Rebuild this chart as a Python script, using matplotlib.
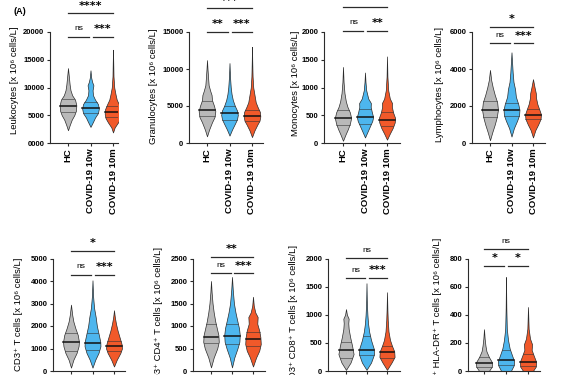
import numpy as np
import matplotlib.pyplot as plt
from matplotlib.transforms import blended_transform_factory

plt.rcParams['font.family'] = ['Liberation Sans', 'DejaVu Sans']

W_PX, H_PX = 581, 375

groups = ["HC", "COVID-19 10w", "COVID-19 10m"]
colors = ["#b9b9b9", "#4db6ee", "#f1592a"]

# violin outlines: values (y) and relative half-widths (w)
leuko_y = [[2300, 3200, 4200, 5000, 5800, 6800, 7800, 8600, 9500, 10500, 12000, 13500],
           [2900, 3800, 4600, 5400, 6200, 7000, 7800, 8600, 9500, 10400, 11000, 11800, 13100],
           [1900, 2800, 3700, 4500, 5300, 6100, 7000, 7800, 8800, 10000, 12000, 14500, 16800]]
leuko_w = [[0, 0.2, 0.45, 0.75, 0.95, 1.0, 0.85, 0.5, 0.3, 0.2, 0.1, 0],
           [0, 0.3, 0.55, 0.9, 1.0, 0.9, 0.55, 0.3, 0.25, 0.35, 0.2, 0.08, 0],
           [0, 0.2, 0.6, 0.9, 1.0, 0.95, 0.7, 0.45, 0.3, 0.15, 0.06, 0.03, 0]]
leuko_med = [6700, 6300, 5600]
leuko_q1 = [5500, 5400, 4700]
leuko_q3 = [8000, 7300, 6600]

gran_y = [[900, 1800, 2800, 3500, 4300, 5000, 5800, 6500, 7000, 7800, 9000, 10000, 11200],
          [1000, 1800, 2600, 3200, 3800, 4400, 5000, 5800, 6600, 7500, 8800, 10800],
          [800, 1700, 2500, 3000, 3600, 4200, 4800, 5500, 6500, 7500, 9000, 11000, 13000]]
gran_w = [[0, 0.25, 0.6, 0.9, 1.0, 0.85, 0.6, 0.55, 0.4, 0.2, 0.12, 0.06, 0],
          [0, 0.3, 0.65, 0.9, 1.0, 0.9, 0.65, 0.4, 0.25, 0.15, 0.07, 0],
          [0, 0.3, 0.65, 0.9, 1.0, 0.95, 0.7, 0.45, 0.3, 0.15, 0.07, 0.03, 0]]
gran_med = [4500, 4000, 3650]
gran_q1 = [3600, 3100, 3000]
gran_q3 = [5700, 5000, 4400]

mono_y = [[40, 150, 250, 350, 450, 550, 650, 750, 900, 1100, 1370],
          [100, 200, 300, 400, 470, 550, 650, 720, 800, 950, 1100, 1270],
          [60, 170, 270, 370, 450, 550, 650, 720, 800, 950, 1200, 1560]]
mono_w = [[0, 0.3, 0.6, 0.85, 1.0, 0.85, 0.55, 0.35, 0.18, 0.07, 0],
          [0, 0.3, 0.6, 0.9, 1.0, 0.85, 0.7, 0.72, 0.4, 0.15, 0.06, 0],
          [0, 0.35, 0.7, 0.95, 1.0, 0.75, 0.6, 0.62, 0.35, 0.15, 0.05, 0]]
mono_med = [450, 460, 415]
mono_q1 = [330, 350, 300]
mono_q3 = [590, 620, 560]

lymph_y = [[150, 600, 1000, 1400, 1800, 2200, 2600, 3000, 3400, 3950],
           [350, 800, 1200, 1500, 1800, 2100, 2500, 2900, 3300, 3800, 4300, 4900],
           [300, 700, 1000, 1300, 1550, 1800, 2100, 2400, 2700, 3000, 3450]]
lymph_w = [[0, 0.3, 0.6, 0.85, 1.0, 0.9, 0.6, 0.35, 0.15, 0],
           [0, 0.3, 0.7, 0.95, 1.0, 0.85, 0.55, 0.45, 0.25, 0.15, 0.08, 0],
           [0, 0.3, 0.65, 0.95, 1.0, 0.8, 0.55, 0.4, 0.35, 0.2, 0]]
lymph_med = [1780, 1770, 1510]
lymph_q1 = [1420, 1450, 1320]
lymph_q3 = [2250, 2150, 1820]

cd3_y = [[150, 500, 800, 1100, 1300, 1600, 1900, 2200, 2500, 2950],
         [150, 500, 800, 1100, 1300, 1600, 2000, 2400, 2800, 3300, 4030],
         [200, 500, 800, 1000, 1200, 1500, 1800, 2100, 2400, 2700]]
cd3_w = [[0, 0.3, 0.7, 0.95, 1.0, 0.85, 0.55, 0.3, 0.15, 0],
         [0, 0.35, 0.75, 1.0, 0.98, 0.8, 0.55, 0.4, 0.2, 0.08, 0],
         [0, 0.35, 0.8, 1.0, 0.95, 0.7, 0.45, 0.25, 0.1, 0]]
cd3_med = [1280, 1250, 1100]
cd3_q1 = [900, 950, 880]
cd3_q3 = [1700, 1700, 1350]

cd4_y = [[80, 300, 500, 650, 800, 950, 1100, 1300, 1500, 1750, 2000],
         [80, 300, 500, 650, 800, 950, 1100, 1300, 1500, 1800, 2090],
         [100, 300, 450, 600, 750, 900, 1050, 1200, 1300, 1450, 1650]]
cd4_w = [[0, 0.35, 0.8, 1.0, 0.95, 0.75, 0.55, 0.35, 0.2, 0.08, 0],
         [0, 0.3, 0.7, 0.95, 1.0, 0.9, 0.7, 0.45, 0.25, 0.1, 0],
         [0, 0.4, 0.8, 1.0, 0.95, 0.8, 0.55, 0.6, 0.3, 0.1, 0]]
cd4_med = [760, 780, 710]
cd4_q1 = [620, 600, 560]
cd4_q3 = [1050, 1050, 860]

cd8_y = [[20, 150, 300, 450, 600, 750, 850, 930, 1000, 1100],
         [20, 150, 300, 400, 550, 700, 850, 1000, 1200, 1560],
         [20, 150, 250, 350, 450, 550, 700, 900, 1100, 1400]]
cd8_w = [[0, 0.6, 1.0, 0.8, 0.55, 0.35, 0.3, 0.35, 0.12, 0],
         [0, 0.6, 1.0, 0.95, 0.6, 0.35, 0.2, 0.12, 0.05, 0],
         [0, 0.6, 1.0, 0.95, 0.65, 0.4, 0.2, 0.1, 0.05, 0]]
cd8_med = [370, 380, 340]
cd8_q1 = [240, 280, 230]
cd8_q3 = [520, 620, 450]

hla_y = [[0, 30, 60, 100, 140, 180, 230, 297],
         [0, 40, 70, 110, 160, 220, 300, 450, 668],
         [0, 30, 65, 110, 150, 190, 230, 300, 455]]
hla_w = [[0.6, 0.95, 1.0, 0.6, 0.3, 0.18, 0.08, 0],
         [0.6, 0.95, 1.0, 0.75, 0.45, 0.25, 0.1, 0.04, 0],
         [0.6, 0.95, 1.0, 0.7, 0.45, 0.5, 0.25, 0.08, 0]]
hla_med = [60, 75, 65]
hla_q1 = [30, 40, 35]
hla_q3 = [100, 150, 120]

ylabels = ["Leukocytes [x 10⁶ cells/L]", "Granulocytes [x 10⁶ cells/L]",
           "Monocytes [x 10⁶ cells/L]", "Lymphocytes [x 10⁶ cells/L]",
           "CD3⁺ T cells [x 10⁶ cells/L]", "CD3⁺ CD4⁺ T cells [x 10⁶ cells/L]",
           "CD3⁺ CD8⁺ T cells [x 10⁶ cells/L]", "CD3⁺ HLA-DR⁺ T cells [x 10⁶ cells/L]"]
yticks = [[0, 5000, 10000, 15000, 20000], [0, 5000, 10000, 15000], [0, 500, 1000, 1500, 2000],
          [0, 2000, 4000, 6000], [0, 1000, 2000, 3000, 4000, 5000], [0, 500, 1000, 1500, 2000, 2500],
          [0, 500, 1000, 1500, 2000], [0, 200, 400, 600, 800]]
# 10w vs HC, 10m vs 10w, 10m vs HC
sig_low = [["ns", "***"], ["**", "***"], ["ns", "**"], ["ns", "***"],
           ["ns", "***"], ["ns", "***"], ["ns", "***"], ["*", "*"]]
sig_top = ["****", "***", "", "*", "*", "**", "ns", "ns"]

data = [(leuko_y, leuko_w, leuko_med, leuko_q1, leuko_q3),
        (gran_y, gran_w, gran_med, gran_q1, gran_q3),
        (mono_y, mono_w, mono_med, mono_q1, mono_q3),
        (lymph_y, lymph_w, lymph_med, lymph_q1, lymph_q3),
        (cd3_y, cd3_w, cd3_med, cd3_q1, cd3_q3),
        (cd4_y, cd4_w, cd4_med, cd4_q1, cd4_q3),
        (cd8_y, cd8_w, cd8_med, cd8_q1, cd8_q3),
        (hla_y, hla_w, hla_med, hla_q1, hla_q3)]

# layout in pixels: axis x, first category x, spacing, axis end, top tick y, zero y
layout = [(50, 68, 22.5, 118, 32, 143), (189, 207, 22.5, 263, 32, 143),
          (324, 343, 22, 400, 32, 143), (472, 490, 21.5, 545, 32, 143),
          (53, 71, 21.5, 125, 258.5, 371), (193, 211, 21, 265, 258.5, 371),
          (328, 346, 20.5, 400, 258.5, 371), (468, 484, 22, 540, 258.5, 371)]
# y pixel of: top bar, top text, low bars, low text
sig_pos = [(13, 6, 37, 29), (8, 1, 31.7, 24), (6.7, -5, 30.7, 23), (26.7, 19, 43.3, 35.7),
           (251, 243, 275, 267), (256.7, 249, 273, 265.7), (257.7, 250, 277.7, 270),
           (249, 241.7, 266, 258.5)]
ylabel_pos = [(15, 27), (154, 29), (296, 31), (439, 27), (19, 258), (158, 247), (293, 245), (437, 238)]

fig = plt.figure(figsize=(W_PX / 100, H_PX / 100), dpi=100)
line_c = "#2b2b2b"


def fy(p):
    return 1 - p / H_PX


for i in range(8):
    L, c0, s, R, top, zero = layout[i]
    ax = fig.add_axes([L / W_PX, fy(zero), (R - L) / W_PX, (zero - top) / H_PX])
    ax.set_xlim((L - c0) / s, (R - c0) / s)
    ax.set_ylim(0, yticks[i][-1])
    ys_all, ws_all, med, q1, q3 = data[i]
    for g in range(3):
        ys = np.array(ys_all[g], dtype=float)
        ws = np.array(ws_all[g]) * 0.37
        ax.fill_betweenx(ys, g - ws, g + ws, facecolor=colors[g], edgecolor=line_c, lw=0.5)
        for v, lw in [(q1[g], 0.4), (q3[g], 0.4), (med[g], 1.1)]:
            hw = np.interp(v, ys, ws)
            ax.plot([g - hw, g + hw], [v, v], color="#111111" if lw > 1 else "#333333", lw=lw)

    for sp in ["top", "right"]:
        ax.spines[sp].set_visible(False)
    for sp in ["left", "bottom"]:
        ax.spines[sp].set_linewidth(0.8)
        ax.spines[sp].set_color(line_c)
    ax.set_yticks(yticks[i])
    labs = [str(t) for t in yticks[i]]
    if i == 0:
        labs[0] = "0000"
    ax.set_yticklabels(labs, fontsize=5.5, fontweight="bold")
    ax.set_xticks([0, 1, 2])
    ax.set_xticklabels(groups, rotation=90, fontsize=6.8, fontweight="bold")
    ax.tick_params(length=2.5, width=0.8, color=line_c, pad=1.5)

    fig.text(ylabel_pos[i][0] / W_PX, fy(ylabel_pos[i][1]), ylabels[i], rotation=90,
             ha="center", va="top", fontsize=6.8)

    tr = blended_transform_factory(ax.transData, fig.transFigure)
    tb, tt, lb, lt = sig_pos[i]
    ax.plot([0, 2], [fy(tb), fy(tb)], transform=tr, color=line_c, lw=0.9, clip_on=False)
    ax.plot([0, 0.93], [fy(lb), fy(lb)], transform=tr, color=line_c, lw=0.9, clip_on=False)
    ax.plot([1.1, 2], [fy(lb), fy(lb)], transform=tr, color=line_c, lw=0.9, clip_on=False)
    for xt, txt, yy in [(1, sig_top[i], tt), (0.47, sig_low[i][0], lt), (1.55, sig_low[i][1], lt)]:
        if not txt:
            continue
        if txt == "ns":
            ax.text(xt, fy(yy), txt, transform=tr, ha="center", va="center", fontsize=6)
        else:
            ax.text(xt, fy(yy), txt, transform=tr, ha="center", va="center",
                    fontsize=8, fontweight="bold", family="DejaVu Sans")

fig.text(13 / W_PX, fy(12), "(A)", fontsize=6.5, fontweight="bold", va="center")

fig.savefig("out.png", dpi=100)
